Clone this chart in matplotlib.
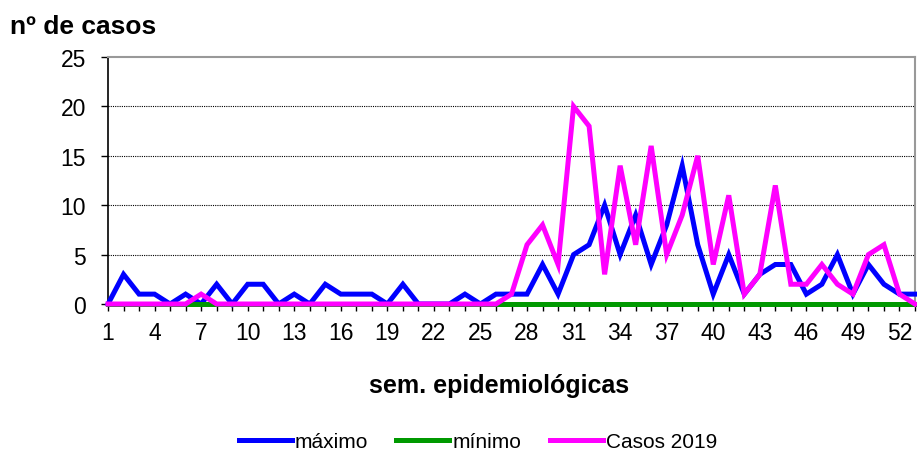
import numpy as np
import matplotlib
matplotlib.use("Agg")
import matplotlib.pyplot as plt

plt.rcParams['font.family'] = ['Liberation Sans', 'DejaVu Sans']

weeks = np.arange(1, 54)
maximo = [0, 3, 1, 1, 0, 1, 0, 2, 0, 2, 2, 0, 1, 0, 2, 1, 1, 1, 0, 2,
          0, 0, 0, 1, 0, 1, 1, 1, 4, 1, 5, 6, 10, 5, 9, 4, 8, 14, 6, 1,
          5, 1, 3, 4, 4, 1, 2, 5, 1, 4, 2, 1, 1]
minimo = [0] * 53
casos_2019 = [0, 0, 0, 0, 0, 0, 1, 0, 0, 0, 0, 0, 0, 0, 0, 0, 0, 0, 0, 0,
              0, 0, 0, 0, 0, 0, 1, 6, 8, 4, 20, 18, 3, 14, 6, 16, 5, 9, 15, 4,
              11, 1, 3, 12, 2, 2, 4, 2, 1, 5, 6, 1, 0]
xtick_labels = list(range(1, 54, 3))

fig = plt.figure(figsize=(9.17, 4.52), dpi=100)
ax = fig.add_axes([0.1178, 0.3252, 0.88, 0.5465])

ax.plot(weeks, maximo, color="#0000FF", lw=3.6, label="máximo",
        solid_joinstyle="miter", clip_on=False, zorder=3)
ax.plot(weeks, minimo, color="#009900", lw=3.6, label="mínimo", clip_on=False, zorder=3)
ax.plot(weeks, casos_2019, color="#FF00FF", lw=3.6, label="Casos 2019",
        solid_joinstyle="miter", clip_on=False, zorder=3)

ax.set_xlim(1, 53)
ax.set_ylim(0, 25)
ax.set_yticks(range(0, 26, 5))
ax.set_xticks(weeks, minor=True)
ax.set_xticks(xtick_labels)
ax.tick_params(axis="both", labelsize=16.5, direction="out", length=5, width=1)
ax.tick_params(axis="x", which="minor", length=5, width=1)
ax.tick_params(axis="x", pad=7)
ax.tick_params(axis="y", pad=11)
for y in range(5, 25, 5):
    ax.axhline(y, color="black", lw=0.8, ls=(0, (1, 1)), zorder=0)

for s in ["top", "right"]:
    ax.spines[s].set_color("#999999")
    ax.spines[s].set_linewidth(1.5)
ax.spines["left"].set_linewidth(1.2)
ax.spines["bottom"].set_linewidth(1.2)

fig.text(0.544, 0.146, "sem. epidemiológicas", fontsize=18, fontweight="bold",
         ha="center", va="center")
fig.text(0.011, 0.94, "nº de casos", fontsize=19, fontweight="bold", ha="left", va="center")

fig.legend(*ax.get_legend_handles_labels(), loc="center", bbox_to_anchor=(0.521, 0.02),
           ncol=3, frameon=False, fontsize=15, handlelength=2.55,
           columnspacing=1.35, handletextpad=0.15, borderpad=0)

fig.savefig("out.png", dpi=100)
